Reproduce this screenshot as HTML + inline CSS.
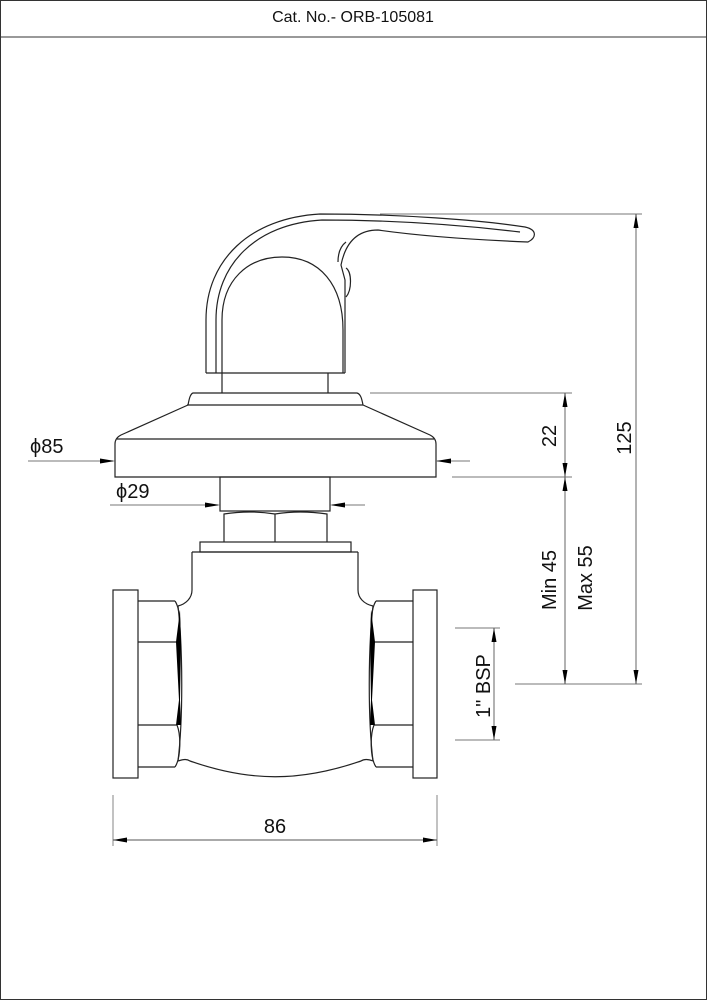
<!DOCTYPE html>
<html><head><style>
html,body{margin:0;padding:0;background:#fff;}
svg{display:block;}
text{font-family:"Liberation Sans",sans-serif;fill:#111;}
</style></head><body>
<svg width="707" height="1000" viewBox="0 0 707 1000" xmlns="http://www.w3.org/2000/svg">
<defs>
<marker id="a" markerWidth="14" markerHeight="8" refX="14" refY="4" orient="auto-start-reverse" markerUnits="userSpaceOnUse"><path d="M0,1.5 L14,4 L0,6.5Z" fill="#000"/></marker>
</defs>
<rect x="0.5" y="0.5" width="706" height="999" fill="none" stroke="#333" stroke-width="1"/>
<line x1="0" y1="37" x2="707" y2="37" stroke="#333"/>
<text x="353" y="22" font-size="16" text-anchor="middle">Cat. No.- ORB-105081</text>

<g fill="none" stroke="#222" stroke-width="1.2">
<!-- handle -->
<path d="M206,373 L206,320 C206,260 250,218 320,214 C400,214 480,220 525,227 C538,230 536,238 528,242 C480,240 420,236 378,230 C355,230 345,245 341,265 L345,280 L345,373"/>
<path d="M216,373 L216,320 C216,265 255,224 322,220 C400,220 470,226 520,232"/>
<path d="M206,373 L345,373"/>
<path d="M222,373 L222,320 C222,280 248,257 282,257 C320,257 343,285 343,330 L343,373"/>
<path d="M338,262 C338,250 342,245 346,242"/>
<path d="M346,268 C352,272 352,290 346,297"/>
<!-- neck -->
<path d="M222,373 L222,393 M328,373 L328,393"/>
<!-- base -->
<path d="M193,393 L357,393 C361,394 362,400 363,405 L430,435 C434,437 436,440 436,444 L436,477 L115,477 L115,444 C115,440 117,437 121,435 L188,405 C189,400 190,394 193,393 Z"/>
<path d="M187,405 L363,405 M117,439 L434,439"/>
<!-- stem -->
<rect x="220" y="477" width="110" height="34"/>
<!-- nuts -->
<path d="M224,542 L224,514 Q250,510 275,514 Q300,510 327,514 L327,542 M275,514 L275,542"/>
<rect x="200" y="542" width="151" height="10"/>
<!-- body -->
<path d="M192,552 L358,552"/>
<path d="M192,552 L192,590 C192,598 186,604 178,606 M358,552 L358,590 C358,598 364,604 373,606"/>
<path d="M178,606 C183,650 183,720 178,761 M373,606 C368,650 368,720 373,761"/>
<path d="M178,761 C184,759 187,759 190,761 C250,782 300,782 361,761 C364,759 368,759 373,761"/>
<!-- left -->
<rect x="113" y="590" width="25" height="188"/>
<path d="M138,601 L175,601 M138,642 L177,642 M138,725 L177,725 M138,767 L175,767"/>
<path d="M175,601 C181,610 181,635 177,642 M177,725 C181,735 181,758 175,767"/>
<!-- right -->
<rect x="413" y="590" width="24" height="188"/>
<path d="M376,601 L413,601 M374,642 L413,642 M374,725 L413,725 M376,767 L413,767"/>
<path d="M376,601 C370,610 370,635 374,642 M374,725 C370,735 370,758 376,767"/>
</g>
<g fill="#000">
<path d="M176,642 L180,610 L181,642 L180,700 L181,725 L176,725 L179,700Z"/>
<path d="M375,642 L371,610 L370,642 L371,700 L370,725 L375,725 L372,700Z"/>
</g>

<g stroke="#777" stroke-width="0.9" fill="none">
<line x1="380" y1="214" x2="642" y2="214"/>
<line x1="370" y1="393" x2="572" y2="393"/>
<line x1="452" y1="477" x2="572" y2="477"/>
<line x1="515" y1="684" x2="642" y2="684"/>
<line x1="455" y1="628" x2="500" y2="628"/>
<line x1="455" y1="740" x2="500" y2="740"/>
<line x1="113" y1="795" x2="113" y2="846"/>
<line x1="437" y1="795" x2="437" y2="846"/>
<line x1="28" y1="461" x2="113" y2="461"/>
<line x1="436" y1="461" x2="470" y2="461"/>
<line x1="110" y1="505" x2="218" y2="505"/>
<line x1="332" y1="505" x2="365" y2="505"/>
</g>
<g stroke="#555" stroke-width="0.9">
<line x1="636" y1="214" x2="636" y2="684" marker-start="url(#a)" marker-end="url(#a)"/>
<line x1="565" y1="393" x2="565" y2="477" marker-start="url(#a)" marker-end="url(#a)"/>
<line x1="565" y1="477" x2="565" y2="684" marker-start="url(#a)" marker-end="url(#a)"/>
<line x1="494" y1="628" x2="494" y2="740" marker-start="url(#a)" marker-end="url(#a)"/>
<line x1="113" y1="840" x2="437" y2="840" marker-start="url(#a)" marker-end="url(#a)"/>
</g>
<g fill="#000">
<path d="M115,461 L100,458.5 L100,463.5Z"/>
<path d="M436,461 L451,458.5 L451,463.5Z"/>
<path d="M220,505 L205,502.5 L205,507.5Z"/>
<path d="M330,505 L345,502.5 L345,507.5Z"/>
</g>
<g font-size="20">
<text x="30" y="453">ϕ85</text>
<text x="116" y="498">ϕ29</text>
<text x="275" y="833" text-anchor="middle">86</text>
<text transform="translate(631,438) rotate(-90)" text-anchor="middle">125</text>
<text transform="translate(556,436) rotate(-90)" text-anchor="middle">22</text>
<text transform="translate(556,580) rotate(-90)" text-anchor="middle">Min  45</text>
<text transform="translate(592,578) rotate(-90)" text-anchor="middle">Max  55</text>
<text transform="translate(490,686) rotate(-90)" text-anchor="middle">1" BSP</text>
</g>
</svg>
</body></html>
